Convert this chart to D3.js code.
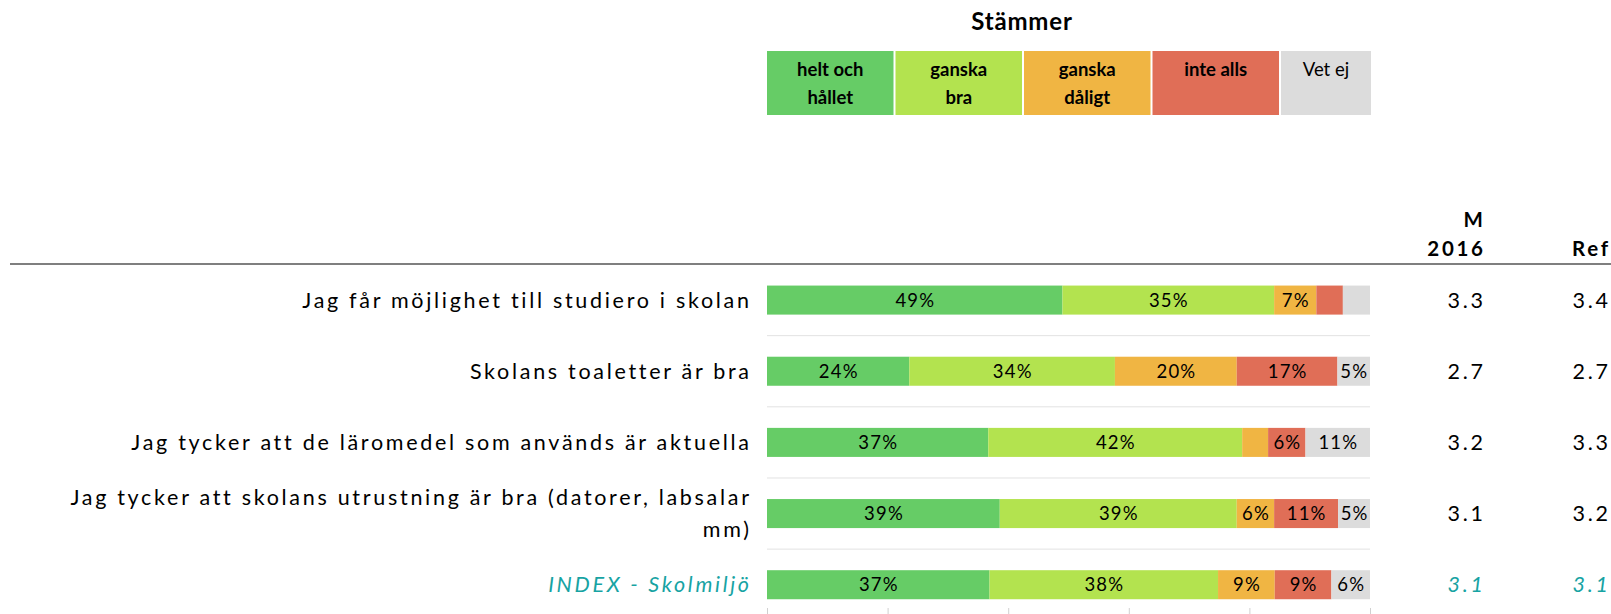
<!DOCTYPE html>
<html>
<head>
<meta charset="utf-8">
<script src="https://cdn.jsdelivr.net/npm/d3@7"></script>
<style>
  body { margin: 0; background: #fff; }
  svg { display: block; font-family: Lato, "Open Sans", sans-serif; }
</style>
</head>
<body>
<svg id="chart"></svg>
<script>
const categories = [
    ["Jag får möjlighet till studiero i skolan"],
    ["Skolans toaletter är bra"],
    ["Jag tycker att de läromedel som används är aktuella"],
    ["Jag tycker att skolans utrustning är bra (datorer, labsalar", "mm)"],
    ["INDEX - Skolmiljö"]
];
const heltOchHallet = [49.0, 23.6, 36.7, 38.6, 36.9];
const ganskaBra = [35.1, 34.1, 42.1, 39.3, 37.9];
const ganskaDaligt = [7.0, 20.2, 4.3, 6.2, 9.4];
const inteAlls = [4.4, 16.7, 6.2, 10.6, 9.4];
const vetEj = [4.5, 5.4, 10.7, 5.3, 6.4];
const m2016 = [3.3, 2.7, 3.2, 3.1, 3.1];
const ref = [3.4, 2.7, 3.3, 3.2, 3.1];
const legendLabels = [["helt och", "hållet"], ["ganska", "bra"], ["ganska", "dåligt"], ["inte alls"], ["Vet ej"]];
const xTicks = [0, 20, 40, 60, 80, 100];

const width = 1611;
const height = 614;
const colors = ["#66cc66", "#b3e34f", "#f0b543", "#e06e57", "#dcdcdc"];
const teal = "#17a3a3";
const series = [heltOchHallet, ganskaBra, ganskaDaligt, inteAlls, vetEj];
const ls = 2.7; // bokstavsavstånd för etiketter
const fs = 21.5;

const svg = d3.select("#chart")
    .attr("width", width)
    .attr("height", height);

// skalor
const x = d3.scaleLinear().domain([0, 100]).range([767, 1370]);
const y = d3.scaleBand()
    .domain(d3.range(categories.length))
    .range([264.5, 620.3])
    .paddingInner(0.592)
    .paddingOuter(0.296);
const step = y.step();

// rubrik
svg.append("text")
    .attr("x", 1022).attr("y", 22)
    .attr("text-anchor", "middle").attr("dy", "0.35em")
    .attr("font-size", 24).attr("font-weight", "bold")
    .style("letter-spacing", "0.8px")
    .text("Stämmer");

// legend
const legendX = [767, 895.5, 1024, 1152.5, 1281];
const legendW = [126.5, 126.5, 126.5, 126.5, 90];
const leg = svg.append("g").selectAll("g")
    .data(legendLabels)
    .join("g")
    .attr("transform", (_, i) => `translate(${legendX[i]},51)`);
leg.append("rect")
    .attr("width", (_, i) => legendW[i])
    .attr("height", 64)
    .attr("fill", (_, i) => colors[i]);
leg.each(function (lines, i) {
    const t = d3.select(this).append("text")
        .attr("text-anchor", "middle")
        .attr("font-size", 18.5)
        .attr("font-weight", i < 4 ? "bold" : "normal");
    lines.forEach((l, j) => {
        t.append("tspan")
            .attr("x", legendW[i] / 2)
            .attr("y", 19 + j * 28)
            .attr("dy", "0.35em")
            .text(l);
    });
});

// kolumnrubriker
const head = (txt, xp, yp) => svg.append("text")
    .attr("x", xp + ls).attr("y", yp).attr("dy", "0.35em")
    .attr("text-anchor", "end")
    .attr("font-size", 20.5).attr("font-weight", "bold")
    .style("letter-spacing", ls + "px")
    .text(txt);
head("M", 1483, 220);
head("2016", 1483, 249);
head("Ref", 1608, 249);

// linje överst
svg.append("line")
    .attr("x1", 10).attr("x2", width)
    .attr("y1", 264).attr("y2", 264)
    .attr("stroke", "#7f7f7f").attr("stroke-width", 2.2);

// stödlinjer mellan rader
svg.append("g").selectAll("line")
    .data(d3.range(1, categories.length))
    .join("line")
    .attr("x1", x(0)).attr("x2", x(100))
    .attr("y1", i => y(i) - y.paddingInner() * step / 2)
    .attr("y2", i => y(i) - y.paddingInner() * step / 2)
    .attr("stroke", "#e2e2e2");

// x-axel (bara streck syns)
const axis = svg.append("g")
    .attr("transform", "translate(0,608)")
    .call(d3.axisBottom(x).tickValues(xTicks).tickSize(8).tickFormat(() => ""));
axis.select(".domain").remove();
axis.selectAll("line").attr("stroke", "#d0d0d0");

// staplade staplar
const stack = categories.map((_, r) => {
    let acc = 0;
    return series.map((s, k) => {
        const seg = { row: r, k: k, v: s[r], x0: acc, x1: acc + s[r] };
        acc += s[r];
        return seg;
    });
}).flat();

svg.append("g").selectAll("rect")
    .data(stack)
    .join("rect")
    .attr("x", d => x(d.x0))
    .attr("y", d => y(d.row))
    .attr("width", d => x(d.x1) - x(d.x0))
    .attr("height", y.bandwidth())
    .attr("fill", d => colors[d.k]);

svg.append("g").selectAll("text")
    .data(stack.filter(d => d.v >= 5))
    .join("text")
    .attr("x", d => x((d.x0 + d.x1) / 2) + 0.6)
    .attr("y", d => y(d.row) + y.bandwidth() / 2)
    .attr("dy", "0.35em")
    .attr("text-anchor", "middle")
    .attr("font-size", 18.5)
    .style("letter-spacing", "1.2px")
    .attr("fill", "#000")
    .text(d => Math.round(d.v) + "%");

// radetiketter
const isIndex = r => r === categories.length - 1;
categories.forEach((lines, r) => {
    const cy = y(r) + y.bandwidth() / 2;
    const t = svg.append("text")
        .attr("text-anchor", "end")
        .attr("font-size", fs)
        .style("letter-spacing", ls + "px")
        .attr("fill", isIndex(r) ? teal : "#000")
        .attr("font-style", isIndex(r) ? "italic" : "normal");
    lines.forEach((l, j) => {
        t.append("tspan")
            .attr("x", 749 + ls)
            .attr("y", cy + (j - (lines.length - 1) / 2) * 32)
            .attr("dy", "0.35em")
            .text(l);
    });
});

// medelvärden
[[m2016, 1483], [ref, 1608]].forEach(([vals, xr]) => {
    svg.append("g").selectAll("text")
        .data(vals)
        .join("text")
        .attr("x", xr + ls)
        .attr("y", (_, r) => y(r) + y.bandwidth() / 2)
        .attr("dy", "0.35em")
        .attr("text-anchor", "end")
        .attr("font-size", fs)
        .style("letter-spacing", ls + "px")
        .attr("fill", (_, r) => isIndex(r) ? teal : "#000")
        .attr("font-style", (_, r) => isIndex(r) ? "italic" : "normal")
        .text(d => d.toFixed(1));
});
</script>
</body>
</html>
